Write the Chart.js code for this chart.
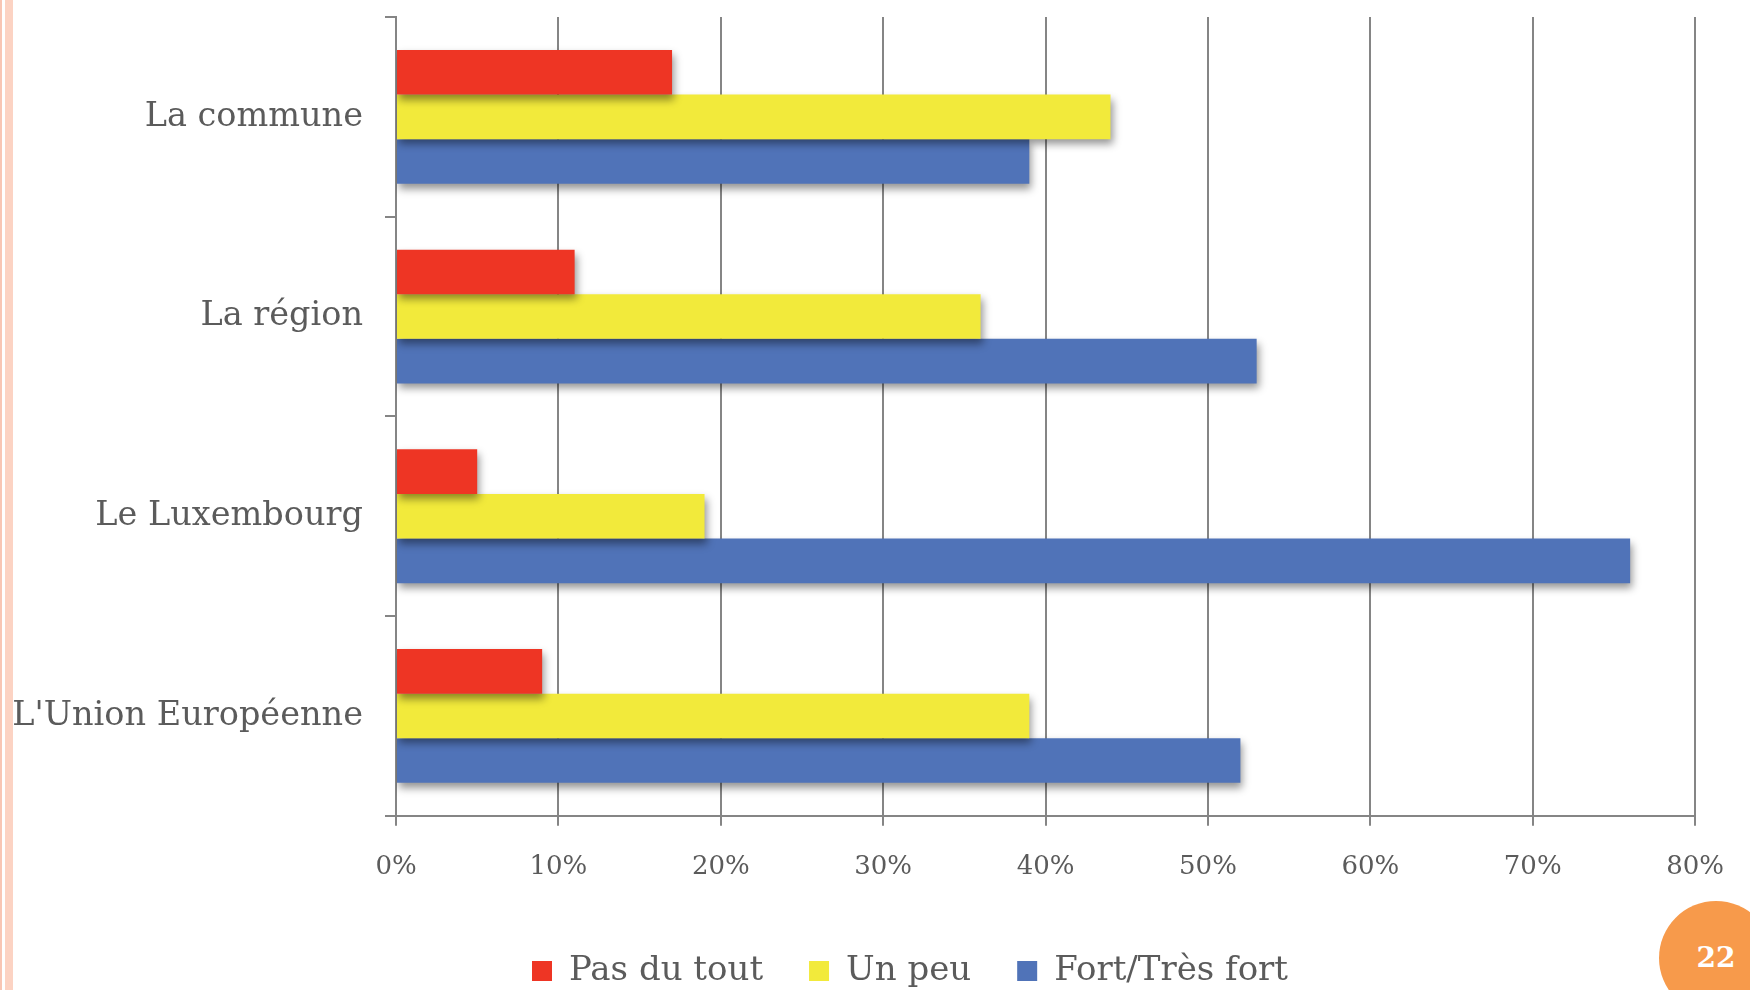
<!DOCTYPE html>
<html>
<head>
<meta charset="utf-8">
<script src="https://cdn.jsdelivr.net/npm/chart.js@4.4.1/dist/chart.umd.min.js"></script>
<style>
  html, body { margin: 0; padding: 0; background: #fff; overflow: hidden; }
  #wrap { position: relative; width: 1750px; height: 990px; overflow: hidden; }
  #box { position: absolute; left: 0; top: 0; width: 1750px; height: 1017px; }
  .edge1 { position: absolute; left: 0; top: 0; width: 2px; height: 990px; background: #f8c6b4; }
  .edge2 { position: absolute; left: 5px; top: 0; width: 8px; height: 990px; background: #fcd3c3; }
  .badge { position: absolute; left: 1659px; top: 901px; width: 114px; height: 114px; border-radius: 50%;
           background: #f79a4b; color: #fff; font: bold 28px "DejaVu Serif"; text-align: center; line-height: 114px; }
</style>
</head>
<body>
<div id="wrap">
  <div class="edge1"></div>
  <div class="edge2"></div>
  <div id="box"><canvas id="myChart"></canvas></div>
  <div class="badge">22</div>
</div>
<script>
  // chart data
  const categories = ["La commune", "La région", "Le Luxembourg", "L'Union Européenne"];
  const pasDuTout = [17, 11, 5, 9];
  const unPeu = [44, 36, 19, 39];
  const fortTresFort = [39, 53, 76, 52];
  const seriesNames = ["Pas du tout", "Un peu", "Fort/Très fort"];
  const xMax = 80;
  const xStep = 10;

  const labelFont = "DejaVu Serif";
  const textColor = "#5b5b5b";
  const lineColor = "#858585";

  // soft shadow under the bars
  const barShadow = {
    id: "barShadow",
    beforeDatasetsDraw(chart) {
      const c = chart.ctx;
      c.save();
      c.shadowColor = "rgba(0,0,0,0.42)";
      c.shadowBlur = 8;
      c.shadowOffsetX = 2;
      c.shadowOffsetY = 5;
    },
    afterDatasetsDraw(chart) {
      chart.ctx.restore();
    },
  };

  // move the legend row to where it sits in the slide
  const legendPlace = {
    id: "legendPlace",
    afterLayout(chart) {
      const lg = chart.legend;
      const pad = lg.options.labels.padding;
      const startX = (lg.left + pad + lg.right - lg.lineWidths[0]) / 2;
      const dx = 532 - startX;
      const dy = 954 - (lg.top + pad);
      lg.left += dx;
      lg.right += dx;
      lg.top += dy;
      lg.bottom += dy;
    },
  };

  const ctx = document.getElementById("myChart");
  new Chart(ctx, {
    type: "bar",
    data: {
      labels: categories,
      datasets: [
        { label: seriesNames[0], data: pasDuTout, backgroundColor: "#ee3524" },
        { label: seriesNames[1], data: unPeu, backgroundColor: "#f2ea3b" },
        { label: seriesNames[2], data: fortTresFort, backgroundColor: "#5073b8" },
      ],
    },
    options: {
      indexAxis: "y",
      responsive: true,
      maintainAspectRatio: false,
      animation: false,
      categoryPercentage: 0.67,
      barPercentage: 1.0,
      layout: { padding: { left: 14, right: 35, top: 17, bottom: 18 } },
      plugins: {
        tooltip: { enabled: false },
        legend: {
          position: "bottom",
          labels: {
            boxWidth: 20,
            boxHeight: 20,
            padding: 46,
            color: textColor,
            font: { family: labelFont, size: 34 },
          },
        },
      },
      scales: {
        x: {
          min: 0,
          max: xMax,
          ticks: {
            stepSize: xStep,
            padding: 26,
            color: textColor,
            font: { family: labelFont, size: 26 },
            callback: (v) => v + "%",
          },
          grid: { color: lineColor, lineWidth: 2, tickLength: 10 },
          border: { color: lineColor, width: 2 },
        },
        y: {
          ticks: {
            padding: 22,
            color: textColor,
            font: { family: labelFont, size: 33.5 },
          },
          grid: { drawOnChartArea: false, color: lineColor, lineWidth: 2, tickLength: 11 },
          border: { color: lineColor, width: 2 },
          afterFit: (s) => {
            s.width = 382;
            s.paddingTop = 0;
            s.paddingBottom = 0;
          },
        },
      },
    },
    plugins: [barShadow, legendPlace],
  });
</script>
</body>
</html>
